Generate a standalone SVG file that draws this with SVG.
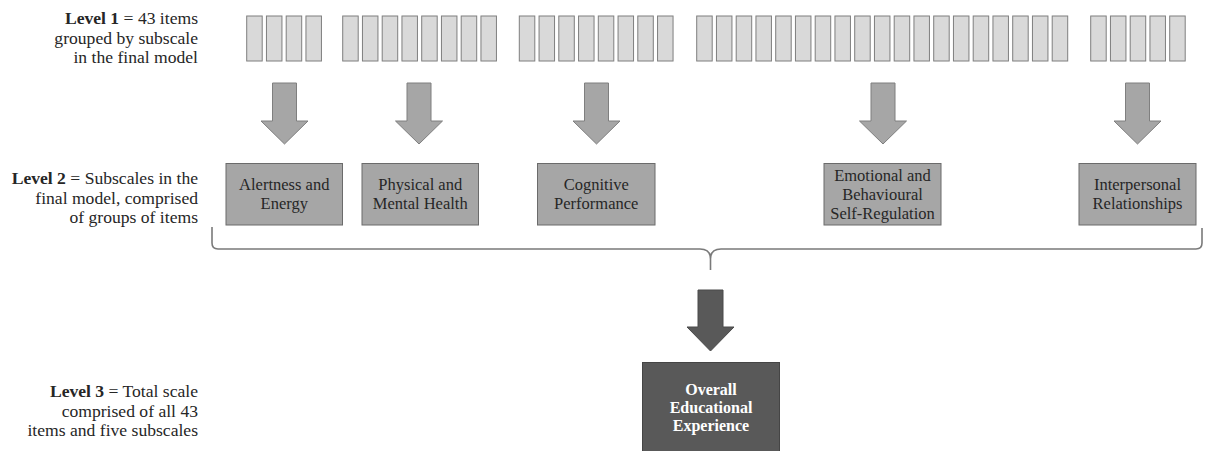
<svg xmlns="http://www.w3.org/2000/svg" width="1208" height="451" viewBox="0 0 1208 451">
  <style>
    .item { fill: #d9d9d9; stroke: #7f7f7f; stroke-width: 1; }
    .sub { fill: #a6a6a6; stroke: #6b6b6b; stroke-width: 1; }
    .top { fill: #595959; stroke: #454545; stroke-width: 1; }
    .arr { fill: #a6a6a6; stroke: #7f7f7f; stroke-width: 1; }
    .darr { fill: #595959; stroke: #4a4a4a; stroke-width: 1; }
    .brace { fill: none; stroke: #7a7a7a; stroke-width: 1.6; }
    .lab { font-family: "Liberation Serif", "DejaVu Serif", serif; font-size: 17.6px; fill: #262626; text-anchor: end; }
    .lab tspan.b { font-weight: bold; }
    .bt { font-family: "Liberation Serif", "DejaVu Serif", serif; font-size: 16.5px; fill: #262626; text-anchor: middle; }
    .wt { font-family: "Liberation Serif", "DejaVu Serif", serif; font-size: 16px; font-weight: bold; fill: #ffffff; text-anchor: middle; }
  </style>
  <defs>
    <rect id="it" x="0" y="16" width="15.5" height="45"/>
    <polygon id="ar" points="-12,83 12,83 12,121 23.5,121 0,144 -23.5,121 -12,121"/>
  </defs>

  <rect width="1208" height="451" fill="#ffffff"/>

  <!-- Level labels -->
  <g id="label-level1">
    <text class="lab" x="198" y="24"><tspan class="b">Level 1</tspan> = 43 items</text>
    <text class="lab" x="198" y="43.5">grouped by subscale</text>
    <text class="lab" x="198" y="63">in the final model</text>
  </g>
  <g id="label-level2">
    <text class="lab" x="198" y="184"><tspan class="b">Level 2</tspan> = Subscales in the</text>
    <text class="lab" x="198" y="203.5">final model, comprised</text>
    <text class="lab" x="198" y="223">of groups of items</text>
  </g>
  <g id="label-level3">
    <text class="lab" x="198" y="397"><tspan class="b">Level 3</tspan> = Total scale</text>
    <text class="lab" x="198" y="416.5">comprised of all 43</text>
    <text class="lab" x="198" y="436">items and five subscales</text>
  </g>

  <!-- Level 1 item groups -->
  <g id="items-alertness" class="item">
    <use href="#it" x="246.7"/><use href="#it" x="266.45"/><use href="#it" x="286.2"/><use href="#it" x="305.95"/>
  </g>
  <g id="items-health" class="item">
    <use href="#it" x="342.7"/><use href="#it" x="362.45"/><use href="#it" x="382.2"/><use href="#it" x="401.95"/>
    <use href="#it" x="421.7"/><use href="#it" x="441.45"/><use href="#it" x="461.2"/><use href="#it" x="480.95"/>
  </g>
  <g id="items-cognitive" class="item">
    <use href="#it" x="519.3"/><use href="#it" x="539.05"/><use href="#it" x="558.8"/><use href="#it" x="578.55"/>
    <use href="#it" x="598.3"/><use href="#it" x="618.05"/><use href="#it" x="637.8"/><use href="#it" x="657.55"/>
  </g>
  <g id="items-emotional" class="item">
    <use href="#it" x="696.7"/><use href="#it" x="716.45"/><use href="#it" x="736.2"/><use href="#it" x="755.95"/>
    <use href="#it" x="775.7"/><use href="#it" x="795.45"/><use href="#it" x="815.2"/><use href="#it" x="834.95"/>
    <use href="#it" x="854.7"/><use href="#it" x="874.45"/><use href="#it" x="894.2"/><use href="#it" x="913.95"/>
    <use href="#it" x="933.7"/><use href="#it" x="953.45"/><use href="#it" x="973.2"/><use href="#it" x="992.95"/>
    <use href="#it" x="1012.7"/><use href="#it" x="1032.45"/><use href="#it" x="1052.2"/>
  </g>
  <g id="items-interpersonal" class="item">
    <use href="#it" x="1090.7"/><use href="#it" x="1110.45"/><use href="#it" x="1130.2"/><use href="#it" x="1149.95"/><use href="#it" x="1169.7"/>
  </g>

  <!-- Connectors -->
  <g id="connectors">
    <use href="#ar" class="arr" x="284.5"/>
    <use href="#ar" class="arr" x="419"/>
    <use href="#ar" class="arr" x="596.5"/>
    <use href="#ar" class="arr" x="883"/>
    <use href="#ar" class="arr" x="1137.5"/>
    <path class="brace" d="M212,227 L212,243 Q212,249 218,249 L700,249 Q710.5,249 710.5,259 L710.5,270 M710.5,259 Q710.5,249 721,249 L1196,249 Q1202,249 1202,243 L1202,228"/>
    <polygon class="darr" points="698,290 723,290 723,327 734,327 710.5,351 687,327 698,327"/>
  </g>

  <!-- Level 2 subscale boxes -->
  <g id="sub-alertness">
    <rect class="sub" x="226" y="163.5" width="116.5" height="61.5"/>
    <text class="bt" x="284.25" y="190">Alertness and</text>
    <text class="bt" x="284.25" y="209">Energy</text>
  </g>
  <g id="sub-health">
    <rect class="sub" x="362" y="163.5" width="116.5" height="61.5"/>
    <text class="bt" x="420.25" y="190">Physical and</text>
    <text class="bt" x="420.25" y="209">Mental Health</text>
  </g>
  <g id="sub-cognitive">
    <rect class="sub" x="537.5" y="163.5" width="117.5" height="61.5"/>
    <text class="bt" x="596.25" y="190">Cognitive</text>
    <text class="bt" x="596.25" y="209">Performance</text>
  </g>
  <g id="sub-emotional">
    <rect class="sub" x="824" y="163.5" width="117" height="61.5"/>
    <text class="bt" x="882.5" y="181">Emotional and</text>
    <text class="bt" x="882.5" y="200">Behavioural</text>
    <text class="bt" x="882.5" y="219">Self-Regulation</text>
  </g>
  <g id="sub-interpersonal">
    <rect class="sub" x="1079" y="163.5" width="117" height="61.5"/>
    <text class="bt" x="1137.5" y="190">Interpersonal</text>
    <text class="bt" x="1137.5" y="209">Relationships</text>
  </g>

  <!-- Level 3 -->
  <g id="overall">
    <rect class="top" x="642.5" y="362.5" width="137" height="95"/>
    <text class="wt" x="711" y="395">Overall</text>
    <text class="wt" x="711" y="413">Educational</text>
    <text class="wt" x="711" y="431">Experience</text>
  </g>
</svg>
